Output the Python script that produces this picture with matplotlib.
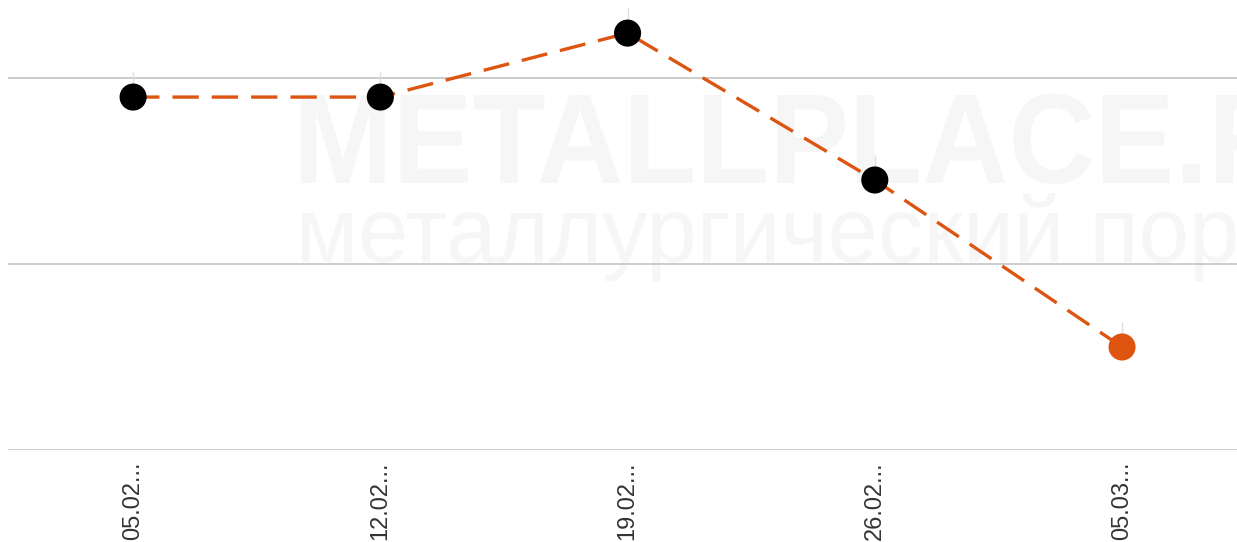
import matplotlib
matplotlib.use("Agg")
import matplotlib.pyplot as plt
from matplotlib.textpath import TextPath
from matplotlib.patches import PathPatch
from matplotlib.font_manager import FontProperties
from matplotlib.transforms import Affine2D, IdentityTransform

# Data
labels = ["05.02...", "12.02...", "19.02...", "26.02...", "05.03..."]
values = [94.9, 94.9, 112.1, 72.6, 27.7]
upper_err = [6.7, 6.7, 6.7, 6.7, 6.7]
grid_values = [0, 50, 100]

ORANGE = "#DD5511"
W, H = 1237, 542
fig = plt.figure(figsize=(W / 100, H / 100), dpi=100)
ax = fig.add_axes([8 / W, (H - 450) / H, (W - 8) / W, 450 / H])
ax.set_zorder(2)


def watermark(text, ref_text, height_text, x0, x1, baseline, top, prop, color):
    ref = TextPath((0, 0), ref_text, size=100, prop=prop)
    hgt = TextPath((0, 0), height_text, size=100, prop=prop).get_extents().y1
    full = TextPath((0, 0), text, size=100, prop=prop)
    rb = ref.get_extents()
    sx = (x1 - x0) / rb.width
    sy = (baseline - top) / hgt
    tr = Affine2D().translate(-rb.x0, 0).scale(sx, sy).translate(x0, H - baseline)
    fig.add_artist(PathPatch(full, transform=tr + IdentityTransform(),
                             facecolor=color, lw=0, zorder=0))


watermark("METALLPLACE.RU", "METALLPLACE", "M", 301, 1170, 183, 95,
          FontProperties(family="Liberation Sans", weight="bold"), "#f6f6f6")
watermark("металлургический портал", "металлургический", "м", 302, 1058, 262, 213,
          FontProperties(family="Liberation Sans"), "#f6f6f6")

x = list(range(len(values)))
for v in grid_values:
    ax.axhline(v, color="#c8c8c8", lw=1.3, zorder=1)

ax.errorbar(x, values, yerr=[[0] * len(values), upper_err], fmt="none",
            ecolor="#dddddd", elinewidth=1, capsize=0, zorder=2)
ax.plot(x, values, color=ORANGE, lw=2.4, dashes=(7.9, 3.9), zorder=3)
colors = ["black"] * (len(values) - 1) + [ORANGE]
ax.scatter(x, values, s=19.5 ** 2, c=colors, zorder=4, linewidths=0)

ax.set_xlim(-0.506, 4.465)
ax.set_ylim(0, 121)
ax.set_yticks([])
ax.set_xticks(x)
ax.set_xticklabels(labels, rotation=90, fontsize=17, color="#333333",
                   family="Liberation Sans", va="top", ha="center")
ax.tick_params(axis="x", length=0, pad=8)
for s in ax.spines.values():
    s.set_visible(False)
ax.patch.set_alpha(0)

fig.savefig("out.png", dpi=100)
